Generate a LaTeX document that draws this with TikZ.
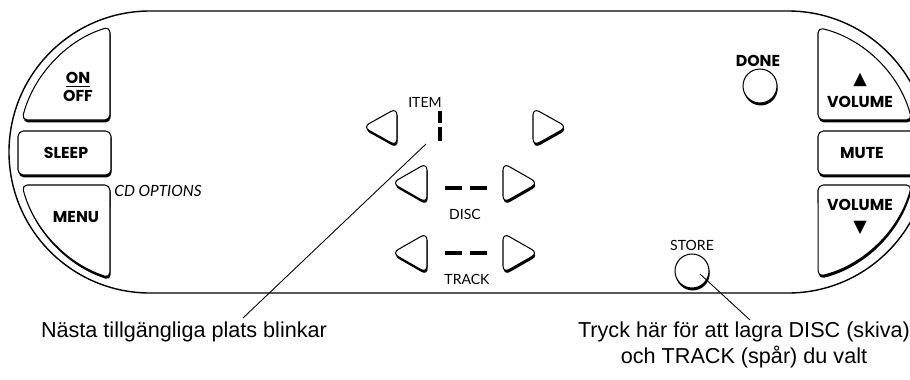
\documentclass[tikz,border=0pt]{standalone}
\usepackage{fontspec}
\setmainfont{Liberation Sans}
\setsansfont{Poppins}
\newfontfamily\lcdfont{Lato}
\newfontfamily\symbolfont{DejaVu Sans}
\usetikzlibrary{shadows}

\begin{document}
\begin{tikzpicture}[
  x=0.02cm, y=-0.02cm,
  key/.style={draw, line width=0.6pt, fill=white, rounded corners=3pt,
    drop shadow={shadow xshift=0.4pt, shadow yshift=-1.4pt, opacity=1, fill=black}},
  keytext/.style={font=\sffamily\bfseries\fontsize{9}{10.5}\selectfont, align=center, inner sep=0pt},
  lcdtext/.style={font=\lcdfont\fontsize{8}{10}\selectfont, inner sep=0pt},
  caption/.style={font=\fontsize{12.3}{14.7}\selectfont, align=center, inner sep=0pt},
  seg/.style={line width=2.2pt},
  leader/.style={line width=0.5pt}
]
  \clip (0,0) rectangle (910,379);

  % housing
  \draw[line width=0.8pt] (150,11) -- (788,11) arc[start angle=-90, end angle=90, radius=141]
    -- (150,293) arc[start angle=90, end angle=270, radius=141] -- cycle;

  % left keys
  \draw[key] (110,120) -- (22,120) arc[start angle=194, end angle=248, radius=132] -- (110,27) -- cycle;
  \draw[key] (18,131) rectangle (111,175);
  \draw[key] (110,185) -- (22,185) arc[start angle=165.5, end angle=107.6, radius=132] -- cycle;
  \node[keytext] (onoff) at (78,87) {\underline{ON}\\OFF};
  \node[keytext] (sleep) at (66,153) {SLEEP};
  \node[keytext] (menu) at (76,217) {MENU};
  \node[lcdtext, font=\lcdfont\itshape\fontsize{8.8}{10}\selectfont, anchor=west] (cdopt) at (114,191) {CD OPTIONS};

  % right keys
  \draw[key] (818,120) -- (818,27.6) arc[start angle=283.6, end angle=345.5, radius=128] -- cycle;
  \draw[key] (818,131) rectangle (930,175);
  \draw[key] (818,185) -- (911.7,185) arc[start angle=14.9, end angle=76.4, radius=128] -- cycle;
  \node[keytext, font=\symbolfont\fontsize{10}{10}\selectfont] (uptri) at (860,80) {▲};
  \node[keytext] (volup) at (860,102) {VOLUME};
  \node[keytext] (mute) at (862,153) {MUTE};
  \node[keytext] (voldown) at (860,205) {VOLUME};
  \node[keytext, font=\symbolfont\fontsize{10}{10}\selectfont] (downtri) at (860,228) {▼};

  % round keys
  \node[keytext] (donetext) at (758,61) {DONE};
  \node[key, circle, minimum size=0.68cm, inner sep=0pt] (done) at (760,86) {};
  \node[lcdtext] (storetext) at (692,245) {STORE};
  \node[key, circle, minimum size=0.68cm, inner sep=0pt] (store) at (692,271) {};

  % display and arrow keys
  \node[lcdtext] (item) at (425,102) {ITEM};
  \node[lcdtext] (disc) at (465,214) {DISC};
  \node[lcdtext] (track) at (467,279) {TRACK};
  \draw[seg, line width=1.9pt] (440,111) -- (440,123);
  \draw[seg, line width=1.9pt] (440,127) -- (440,141);
  \foreach \y in {188,253} {
    \draw[seg] (445,\y) -- (462,\y);
    \draw[seg] (470,\y) -- (487,\y);
  }
  \foreach \tx/\bx/\ty/\h in {363/397/127/19, 567/533/127/19, 392/427/183/20,
      538/503/183/20, 392/427/253/20, 538/503/253/20}
    \draw[key, rounded corners=4pt] (\bx,\ty) -- (\bx,\ty+\h) -- (\tx,\ty) -- (\bx,\ty-\h) -- cycle;

  % callouts
  \coordinate (blinkpt) at (426,144);
  \coordinate (blinkend) at (243,318);
  \node[caption] (blinkcap) at (184,332) {Nästa tillgängliga plats blinkar};
  \coordinate (storept) at (700,274);
  \coordinate (storeend) at (750,320);
  \node[caption] (storecap) at (744,345) {Tryck här för att lagra DISC (skiva)\\och TRACK (spår) du valt};
  \draw[leader] (blinkpt) -- (blinkend);
  \draw[leader] (storept) -- (storeend);
\end{tikzpicture}
\end{document}
